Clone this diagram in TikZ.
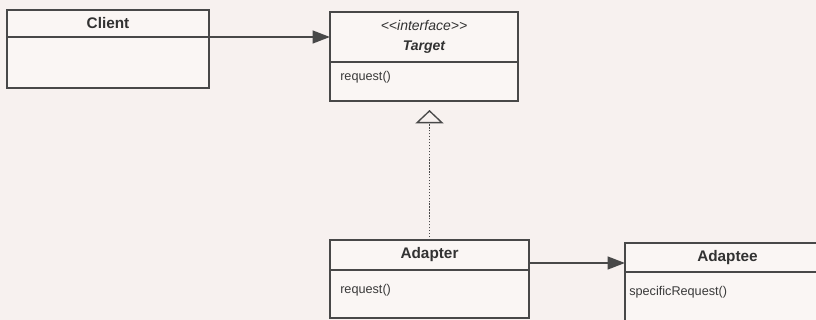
\documentclass[tikz,border=0pt]{standalone}
\usepackage{fontspec}
\setmainfont{Liberation Sans}
\usetikzlibrary{arrows.meta, positioning, calc}
\definecolor{paper}{RGB}{247,241,239}
\definecolor{boxfill}{RGB}{250,246,244}
\definecolor{ink}{RGB}{72,72,72}
\newcommand{\namefont}{\fontsize{11.5}{13}\selectfont\bfseries}
\newcommand{\methfont}{\fontsize{9.5}{11}\selectfont}

\begin{document}
\begin{tikzpicture}[x=0.75pt, y=-0.75pt, font=\namefont,
  part/.style={draw=ink, fill=boxfill, line width=1pt,
    inner sep=0pt, outer sep=0pt, anchor=north west,
    text=ink!70!black},
  meth/.style={anchor=west, inner sep=0pt, text=ink!80!black,
    font=\methfont},
  assoc/.style={-{Triangle[length=13pt, width=9.5pt]},
    line width=1.6pt, draw=ink},
  realize/.style={-{Triangle[open, length=10pt, width=21pt,
      line width=1pt]}, draw=ink,
    line width=1pt, dash pattern=on 1pt off 1.2pt,
    shorten >=6.75pt}]
  % Page and frame
  \clip (0,0) rectangle (816,320);
  \fill[paper] (0,0) rectangle (816,320);

  % Client
  \node[part, minimum width=151.5pt, minimum height=20.25pt]
    (client-head) at (7,10) {Client};
  \node[part, minimum width=151.5pt, minimum height=38.25pt]
    (client-body) at (client-head.south west) {};

  % Target interface
  \node[part, minimum width=141pt, minimum height=37.5pt,
        align=center, font=\fontsize{10.5}{15}\selectfont]
    (target-head) at (330,12)
    {\itshape <{}<interface>{}>\\ \bfseries\itshape Target};
  \node[part, minimum width=141pt, minimum height=29.25pt]
    (target-body) at (target-head.south west) {};
  \node[meth] (target-op)
    at ([xshift=7.5pt, yshift=-11.25pt]target-body.north west)
    {request()};

  % Adapter
  \node[part, minimum width=149.25pt, minimum height=22.5pt]
    (adapter-head) at (330,240) {Adapter};
  \node[part, minimum width=149.25pt, minimum height=36pt]
    (adapter-body) at (adapter-head.south west) {};
  \node[meth] (adapter-op)
    at ([xshift=7.5pt, yshift=-15pt]adapter-body.north west)
    {request()};

  % Adaptee
  \node[part, minimum width=153.75pt, minimum height=21.75pt]
    (adaptee-head) at (625,243) {Adaptee};
  \node[part, minimum width=153.75pt, minimum height=45pt]
    (adaptee-body) at (adaptee-head.south west) {};
  \node[meth] (adaptee-op)
    at ([xshift=3pt, yshift=-15pt]adaptee-body.north west)
    {specificRequest()};

  % Associations
  \draw[assoc] (client-head.south east) -- (target-head.west);
  \coordinate (lowrow) at (0,263);
  \draw[assoc] (adapter-head.east |- lowrow)
    -- (adaptee-head.west |- lowrow);

  % Realization
  \draw[realize] (adapter-head.north)
    -- (adapter-head.north |- target-body.south);
\end{tikzpicture}
\end{document}
